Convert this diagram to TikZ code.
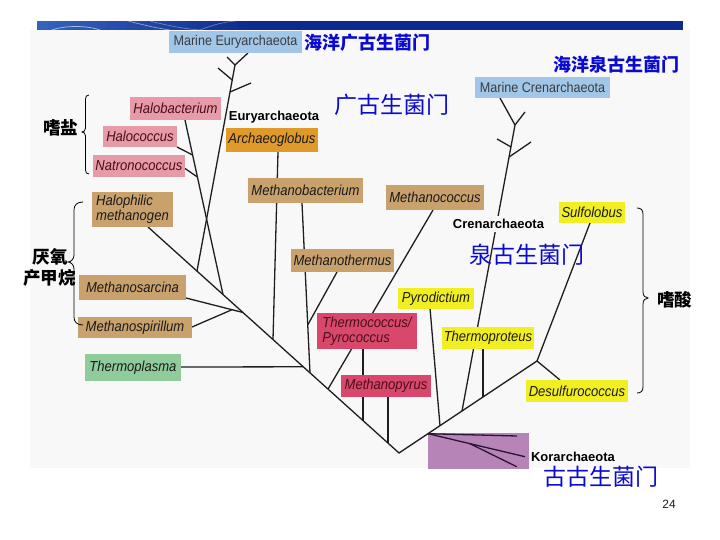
\documentclass[tikz,border=0pt]{standalone}
\usepackage{fontspec}
\setmainfont{Liberation Sans}
\newfontfamily\spfont[FakeStretch=0.9]{Liberation Sans}
\newfontfamily\cjk{Noto Sans CJK SC}
\definecolor{panel}{HTML}{F8F8F8}
\definecolor{bannerblue}{HTML}{0E2A8C}
\definecolor{bannerlight}{HTML}{3463BC}
\definecolor{marine}{HTML}{A0C6E8}
\definecolor{halo}{HTML}{E79AA8}
\definecolor{orangebox}{HTML}{E09A2A}
\definecolor{tanbox}{HTML}{C9A16C}
\definecolor{yellowbox}{HTML}{F1EE22}
\definecolor{crimson}{HTML}{D9486C}
\definecolor{greenbox}{HTML}{8FCB9B}
\definecolor{purplebox}{HTML}{B784B8}
\definecolor{cjkblue}{HTML}{0A0AD2}
\definecolor{linec}{HTML}{1E1E1E}
\definecolor{dark}{HTML}{1A1A1A}
\definecolor{maroon}{HTML}{4A0E1A}
\definecolor{kline}{HTML}{2A1430}
\begin{document}
\begin{tikzpicture}[x=1bp,y=-1bp,
  branch/.style={draw=linec,line width=1.3bp},
  kbranch/.style={draw=kline,line width=1.3bp},
  box/.style={inner sep=0pt,outer sep=0pt},
  sp/.style={font=\spfont\fontsize{14.5bp}{15bp}\selectfont\itshape,text=dark},
  spr/.style={font=\spfont\fontsize{14.5bp}{15bp}\selectfont\itshape,text=maroon},
  mar/.style={font=\spfont\fontsize{14bp}{15bp}\selectfont,text=dark!85},
  grp/.style={font=\fontsize{13bp}{15bp}\selectfont\bfseries,text=black},
  cjkb/.style={font=\cjk\bfseries\fontsize{18bp}{20bp}\selectfont,text=cjkblue},
  cjkl/.style={font=\cjk\fontsize{23bp}{25bp}\selectfont,text=cjkblue},
  cjkk/.style={font=\cjk\bfseries\fontsize{17.5bp}{20bp}\selectfont,text=black},
  bracec/.style={draw=black,line width=.8bp}
]
\useasboundingbox (0,0) rectangle (720,540);
\fill[white] (0,0) rectangle (720,540);
\fill[panel] (30,30) rectangle (690,468);
% banner
\fill[bannerblue] (37,21) rectangle (683,30);
\begin{scope}
\clip (37,21) rectangle (683,30);
\foreach \i in {0,...,21}{
  \pgfmathsetmacro\pc{100-\i*100/21}
  \fill[bannerlight!\pc!bannerblue] ({37+\i*10},21) rectangle ({47.5+\i*10},30);
}
\draw[white,opacity=.6,line width=.7bp] (50,31) .. controls (62,25) and (90,25) .. (102,31);
\draw[white,opacity=.5,line width=.7bp] (128,21) .. controls (140,24) and (155,28) .. (170,30);
\draw[white,opacity=.4,line width=.6bp] (150,21) .. controls (165,25) and (185,29) .. (200,30);
\draw[white,opacity=.4,line width=.6bp] (200,30) .. controls (215,24) and (225,22) .. (235,21);
\end{scope}

% ---------- coordinates ----------
\coordinate (root) at (399,453);
\coordinate (hmb) at (148,227);
\coordinate (jme) at (197,271);
\coordinate (jhb) at (223,294.5);
\coordinate (jms) at (243,312.5);
\coordinate (jmb1) at (273,339.5);
\coordinate (jtpl) at (303,366.8);
\coordinate (jmb2) at (310,372.9);
\coordinate (jmcc) at (328,389.1);
\coordinate (jtp) at (363,420.6);
\coordinate (jmp) at (388,443.1);
\coordinate (jko) at (428,433.7);
\coordinate (jpd) at (440,425.7);
\coordinate (jcr) at (462,411);
\coordinate (jtpr) at (483,397);
\coordinate (jsd) at (537,361);
% marine eury subtree
\coordinate (mef) at (235,65);
\coordinate (me1) at (227,57);
\coordinate (me2) at (248,53);
\coordinate (mej1) at (232.2,80);
\coordinate (me3) at (218,68);
\coordinate (mej2) at (230,92);
\coordinate (me4) at (251,83);
% halo
\coordinate (hbt) at (185,120);
\coordinate (hcr) at (177,147);
\coordinate (jhc) at (192.6,155);
\coordinate (ncr) at (185,168.5);
\coordinate (jnc) at (197.4,177);
% methanogens
\coordinate (msr) at (186,298);
\coordinate (mspr) at (192,327);
\coordinate (jmsp) at (232,309.7);
\coordinate (tplr) at (181,367);
\coordinate (agb) at (278,152);
\coordinate (mbb2) at (302,203);
\coordinate (mtb) at (337,272);
\coordinate (jmt) at (307.7,325);
\coordinate (mccb) at (433,210);
\coordinate (tpb) at (363,349);
\coordinate (mpb) at (388,397);
% crenarchaeota
\coordinate (pdb) at (430,308);
\coordinate (tprb) at (483,347);
\coordinate (mcf) at (515,125);
\coordinate (mc1) at (500,98);
\coordinate (mc2) at (525,112);
\coordinate (mcj1) at (511,147);
\coordinate (mc3) at (497,139);
\coordinate (mcj2) at (509.1,157);
\coordinate (mc4) at (531,142);
\coordinate (sfb) at (590,223);
\coordinate (dct) at (560,380);
% korarchaeota
\coordinate (ko1) at (517,436);
\coordinate (ko2) at (525,456.7);
\coordinate (koj) at (470,443.7);
\coordinate (ko3) at (516.7,466.7);

% ---------- Korarchaeota box (lines drawn on top) ----------
\node[box,fill=purplebox,minimum width=101bp,minimum height=36bp] (kobox) at (478.5,451) {};

% ---------- branches ----------
\draw[branch] (hmb) -- (root) -- (jsd);
\draw[branch] (mef) -- (jme);
\draw[branch] (mef) -- (me1);
\draw[branch] (mef) -- (me2);
\draw[branch] (mej1) -- (me3);
\draw[branch] (mej2) -- (me4);
\draw[branch] (hbt) -- (jhb);
\draw[branch] (hcr) -- (jhc);
\draw[branch] (ncr) -- (jnc);
\draw[branch] (msr) -- (jms);
\draw[branch] (mspr) -- (jmsp);
\draw[branch] (tplr) -- (jtpl);
\draw[branch] (agb) -- (jmb1);
\draw[branch] (mbb2) -- (jmb2);
\draw[branch] (mtb) -- (jmt);
\draw[branch] (mccb) -- (jmcc);
\draw[branch] (tpb) -- (jtp);
\draw[branch] (mpb) -- (jmp);
\draw[branch] (pdb) -- (jpd);
\draw[branch] (tprb) -- (jtpr);
\draw[branch] (mcf) -- (jcr);
\draw[branch] (mcf) -- (mc1);
\draw[branch] (mcf) -- (mc2);
\draw[branch] (mcj1) -- (mc3);
\draw[branch] (mcj2) -- (mc4);
\draw[branch] (jsd) -- (sfb);
\draw[branch] (jsd) -- (dct);
\draw[kbranch] (jko) -- (ko1);
\draw[kbranch] (jko) -- (ko2);
\draw[kbranch] (koj) -- (ko3);

% ---------- boxes ----------
\node[box,fill=marine,minimum width=133bp,minimum height=22bp,mar] (me) at (235.5,42) {Marine Euryarchaeota};
\node[box,fill=marine,minimum width=135bp,minimum height=21bp,mar] (mc) at (542.5,87.5) {Marine Crenarchaeota};
\node[box,fill=halo,minimum width=91bp,minimum height=23bp,spr] (hb) at (175.5,108.5) {Halobacterium};
\node[box,fill=halo,minimum width=74bp,minimum height=21bp,spr] (hc) at (140,136.5) {Halococcus};
\node[box,fill=halo,minimum width=92bp,minimum height=22bp,spr] (nc) at (139,166) {Natronococcus};
\node[box,fill=orangebox,minimum width=92bp,minimum height=24bp,sp] (ag) at (272,140) {Archaeoglobus};
\node[box,fill=tanbox,minimum width=115bp,minimum height=25bp,sp] (mb) at (305.5,190.5) {Methanobacterium};
\node[box,fill=tanbox,minimum width=98bp,minimum height=25bp,sp] (mcc) at (435,197.5) {Methanococcus};
\node[box,fill=tanbox,minimum width=81bp,minimum height=35bp,sp,align=left] (hm) at (132.5,209.5) {Halophilic\\methanogen};
\node[box,fill=yellowbox,minimum width=66bp,minimum height=21bp,sp] (sf) at (592,212.5) {Sulfolobus};
\node[box,fill=tanbox,minimum width=103bp,minimum height=23bp,sp] (mt) at (342.5,260.5) {Methanothermus};
\node[box,fill=tanbox,minimum width=107bp,minimum height=25bp,sp] (ms) at (132.5,287.5) {Methanosarcina};
\node[box,fill=yellowbox,minimum width=76bp,minimum height=21bp,sp] (pd) at (436,298.5) {Pyrodictium};
\node[box,fill=tanbox,minimum width=114bp,minimum height=21bp,sp] (msp) at (135,327.5) {Methanospirillum};
\node[box,fill=crimson,minimum width=100bp,minimum height=36bp,spr,align=left] (tp) at (367,331) {Thermococcus/\\Pyrococcus};
\node[box,fill=yellowbox,minimum width=92bp,minimum height=22bp,sp] (tpr) at (488,337.5) {Thermoproteus};
\node[box,fill=greenbox,minimum width=96bp,minimum height=27bp,sp] (tpl) at (133,367.5) {Thermoplasma};
\node[box,fill=crimson,minimum width=90bp,minimum height=22bp,spr] (mp) at (386,386) {Methanopyrus};
\node[box,fill=yellowbox,minimum width=102bp,minimum height=22bp,sp] (dc) at (577,391) {Desulfurococcus};

% ---------- group labels ----------
\node[grp,inner sep=1bp] (eury) at (274,117) {Euryarchaeota};
\node[grp,fill=panel,inner sep=3bp] (cren) at (498.5,224) {Crenarchaeota};
\node[grp,inner sep=1bp] (kor) at (573,457) {Korarchaeota};

% ---------- Chinese labels ----------
\node[cjkb,inner sep=0pt] (zme) at (367.5,43) {海洋广古生菌门};
\node[cjkb,inner sep=0pt] (zmc) at (616.5,65) {海洋泉古生菌门};
\node[cjkl,inner sep=0pt] (zeu) at (391.5,105) {广古生菌门};
\node[cjkl,inner sep=0pt] (zcr) at (526.5,255) {泉古生菌门};
\node[cjkl,inner sep=0pt] (zko) at (601,477) {古古生菌门};
\node[cjkk,inner sep=0pt] (zsalt) at (60.5,128) {嗜盐};
\node[cjkk,inner sep=0pt] (zana1) at (50,257) {厌氧};
\node[cjkk,inner sep=0pt] (zana2) at (49.5,278) {产甲烷};
\node[cjkk,inner sep=0pt] (zacid) at (674.5,300) {嗜酸};
\node[font=\fontsize{12bp}{14bp}\selectfont,text=dark,inner sep=0pt] (pg) at (669,504) {24};

% ---------- braces ----------
\draw[bracec] (89,95) .. controls (86.5,95) and (85.5,96.5) .. (85.5,99) -- (85.5,128) .. controls (85.5,130.5) and (84,132) .. (82,132) .. controls (84,132) and (85.5,133.5) .. (85.5,136) -- (85.5,170) .. controls (85.5,172.5) and (86.5,174) .. (89,174);
\draw[bracec] (83,202) .. controls (77,202) and (74,205) .. (74,210) -- (74,255) .. controls (74,259) and (71,262) .. (68,262) .. controls (71,262) and (74,265) .. (74,269) -- (74,317) .. controls (74,322) and (77,325) .. (83,325);
\draw[bracec] (637,208) .. controls (641,208) and (643,210) .. (643,214) -- (643,292) .. controls (643,295.5) and (645,298) .. (648,298) .. controls (645,298) and (643,300.5) .. (643,304) -- (643,387) .. controls (643,391) and (641,393) .. (637,393);
\end{tikzpicture}
\end{document}
